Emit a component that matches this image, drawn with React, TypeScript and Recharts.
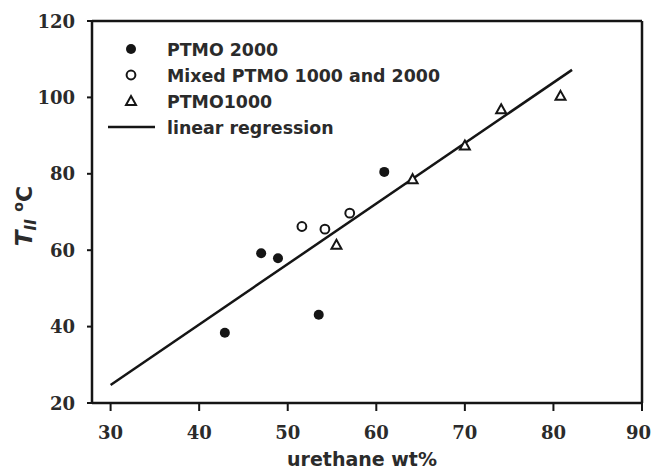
import React from 'react';
import { ScatterChart, Scatter, XAxis, YAxis, ReferenceLine, Legend } from 'recharts';

const xTicks = [30, 40, 50, 60, 70, 80, 90];
const yTicks = [20, 40, 60, 80, 100, 120];

const ptmo2000X = [42.9, 47.0, 48.9, 53.5, 60.9];
const ptmo2000Y = [38.4, 59.2, 57.9, 43.1, 80.5];
const mixedX = [51.6, 54.2, 57.0];
const mixedY = [66.2, 65.5, 69.7];
const ptmo1000X = [55.5, 64.1, 70.0, 74.1, 80.8];
const ptmo1000Y = [61.4, 78.6, 87.4, 96.9, 100.4];
const regressionX = [30, 82.1];
const regressionY = [24.7, 107.2];

const legendLabels = ['PTMO 2000', 'Mixed PTMO 1000 and 2000', 'PTMO1000', 'linear regression'];

const zip = (xs: number[], ys: number[]) => xs.map((x, i) => ({ x, y: ys[i] }));

const ptmo2000 = zip(ptmo2000X, ptmo2000Y);
const mixed = zip(mixedX, mixedY);
const ptmo1000 = zip(ptmo1000X, ptmo1000Y);
const regression = zip(regressionX, regressionY);

const INK = '#151515';
const TXT = '#2b2b2b';

const FilledDot = (p: any) => <circle cx={p.cx} cy={p.cy} r={5} fill={INK} />;
const OpenDot = (p: any) => <circle cx={p.cx} cy={p.cy} r={4.4} fill="#fff" stroke={INK} strokeWidth={2} />;
const Tri = (p: any) => (
  <path
    d={`M${p.cx},${p.cy - 5} L${p.cx + 5},${p.cy + 4} L${p.cx - 5},${p.cy + 4} Z`}
    fill="#fff"
    stroke={INK}
    strokeWidth={2}
    strokeLinejoin="miter"
  />
);
const NoDot = () => <g />;

const XTick = (p: any) => {
  const last = p.payload.value === xTicks[xTicks.length - 1];
  return (
    <text
      x={last ? 651 : p.x}
      y={p.y + 28}
      textAnchor={last ? 'end' : 'middle'}
      fontFamily="DejaVu Serif"
      fontWeight="bold"
      fontSize={18}
      fill={TXT}
    >
      {p.payload.value}
    </text>
  );
};
const YTick = (p: any) => (
  <text x={p.x - 12} y={p.y + 6.5} textAnchor="end" fontFamily="DejaVu Serif" fontWeight="bold" fontSize={18} fill={TXT}>
    {p.payload.value}
  </text>
);

const YLabel = () => (
  <text
    transform="translate(32,216) rotate(-90)"
    textAnchor="middle"
    fontFamily="DejaVu Sans"
    fontWeight="bold"
    fill={TXT}
  >
    <tspan fontSize={23} fontStyle="italic">T</tspan>
    <tspan fontSize={15} fontStyle="italic" dy={4}>II</tspan>
    <tspan fontSize={22} dy={-4}> </tspan>
    <tspan fontSize={14} dy={-9}>o</tspan>
    <tspan fontSize={22} dy={9}>C</tspan>
  </text>
);

const XLabel = () => (
  <text x={362} y={466} textAnchor="middle" fontFamily="DejaVu Sans" fontWeight="bold" fontSize={19} fill={TXT}>
    urethane wt%
  </text>
);

const rowsY = [19, 45, 71, 97];
const LegendContent = () => (
  <svg width={380} height={112} style={{ display: 'block' }}>
    <circle cx={31} cy={rowsY[0]} r={5} fill={INK} />
    <circle cx={31} cy={rowsY[1]} r={4.4} fill="#fff" stroke={INK} strokeWidth={2} />
    <path d={`M31,${rowsY[2] - 5} L36,${rowsY[2] + 4} L26,${rowsY[2] + 4} Z`} fill="#fff" stroke={INK} strokeWidth={2} />
    <line x1={8} x2={55} y1={rowsY[3]} y2={rowsY[3]} stroke={INK} strokeWidth={2.5} />
    {legendLabels.map((l, i) => (
      <text key={l} x={67} y={rowsY[i] + 6.5} fontFamily="DejaVu Sans" fontWeight="bold" fontSize={17.4} fill={TXT}>
        {l}
      </text>
    ))}
  </svg>
);

export default function App() {
  return (
    <div style={{ position: 'absolute', left: 0, top: 0, width: 652, height: 469, background: '#fff' }}>
      <ScatterChart width={652} height={469} margin={{ top: 21, right: 10, left: 0, bottom: 0 }}>
        <XAxis
          type="number"
          dataKey="x"
          domain={[27.9, 90]}
          ticks={xTicks}
          interval={0}
          allowDataOverflow
          height={66}
          tickSize={8}
          tickMargin={0}
          axisLine={{ stroke: INK, strokeWidth: 2.5 }}
          tickLine={{ stroke: INK, strokeWidth: 2 }}
          tick={<XTick />}
          label={<XLabel />}
        />
        <YAxis
          type="number"
          dataKey="y"
          domain={[20, 120]}
          ticks={yTicks}
          interval={0}
          allowDataOverflow
          width={92}
          tickSize={5}
          tickMargin={0}
          axisLine={{ stroke: INK, strokeWidth: 2.5 }}
          tickLine={{ stroke: INK, strokeWidth: 2 }}
          tick={<YTick />}
          label={<YLabel />}
        />
        <ReferenceLine y={120} stroke={INK} strokeWidth={2.5} />
        <ReferenceLine x={90} stroke={INK} strokeWidth={2.5} />
        <Scatter
          name="linear regression"
          data={regression}
          line={{ stroke: INK, strokeWidth: 2.5 }}
          shape={<NoDot />}
          isAnimationActive={false}
        />
        <Scatter name="PTMO 2000" data={ptmo2000} shape={<FilledDot />} isAnimationActive={false} />
        <Scatter name="Mixed PTMO 1000 and 2000" data={mixed} shape={<OpenDot />} isAnimationActive={false} />
        <Scatter name="PTMO1000" data={ptmo1000} shape={<Tri />} isAnimationActive={false} />
        <Legend
          layout="vertical"
          align="center"
          verticalAlign="middle"
          content={<LegendContent />}
          wrapperStyle={{ left: 100, top: 30, width: 380, height: 112 }}
        />
      </ScatterChart>
    </div>
  );
}
